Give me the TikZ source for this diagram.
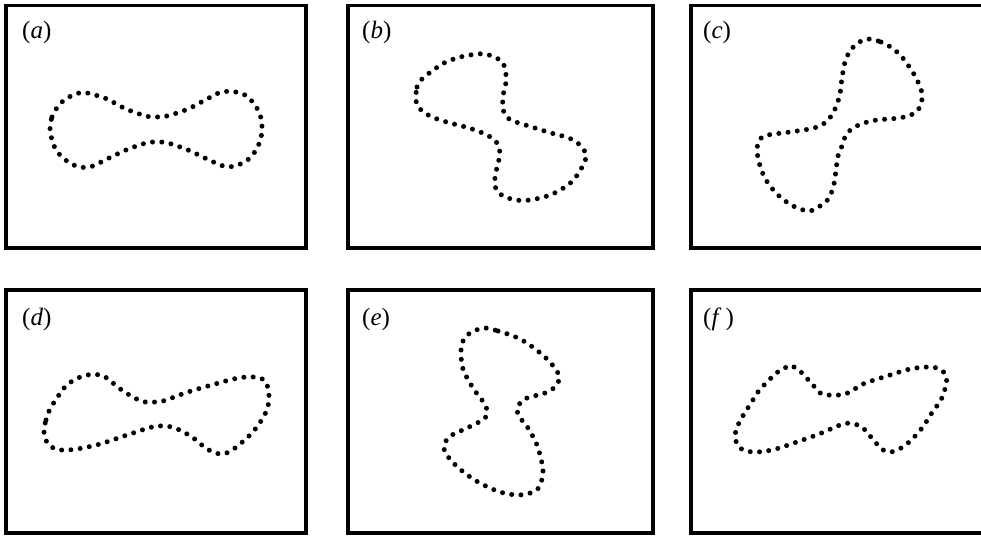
\documentclass[tikz,border=0pt]{standalone}
\usepackage{fontspec}
\setmainfont{Liberation Serif}
\begin{document}
\begin{tikzpicture}[x=1pt,y=-1pt,
  panel/.style={draw=black,line width=3.6pt},
  dotcurve/.style={draw=black,line width=5pt,line cap=round,dash pattern=on 0pt off 9.3pt,smooth cycle,tension=0.55},
  lab/.style={anchor=base west,inner sep=0pt,font=\fontsize{25}{29}\selectfont}]
\useasboundingbox (0,0) rectangle (981,535);
\clip (0,0) rectangle (981,535);
% panels
\draw[panel] (6,5.5) rectangle (306,248);
\draw[panel] (348,5.5) rectangle (653,248);
\draw[panel] (691,5.5) rectangle (1000,248);
\draw[panel] (6,290) rectangle (306,533);
\draw[panel] (348,290) rectangle (653,533);
\draw[panel] (691,290) rectangle (1000,533);
% labels
\node[lab] (la) at (22,39) {(\textit{a})};
\node[lab] (lb) at (362,39) {(\textit{b})};
\node[lab] (lc) at (703,39) {(\textit{c})};
\node[lab] (ld) at (22,325) {(\textit{d})};
\node[lab] (le) at (362,325) {(\textit{e})};
\node[lab] (lf) at (703,325) {(\textit{f}\,)};
% (a)
\draw[dotcurve] plot coordinates {(50,128) (52,117) (59,105) (69,97) (82,92.5) (95,95) (107,99) (126,109) (146,116) (157,117) (167,116) (188,109) (207,99) (220,92.5) (232,91.5) (245,95) (255,105) (261,118) (262,128) (261,138) (257,148) (250,158) (238,165) (225,166.5) (207,159) (188,150) (168,143) (157,142) (146,143) (126,150) (107,159) (90,167) (76,166) (63,158) (55,148) (51,136)};
% (b)
\draw[dotcurve] plot coordinates {(416,94) (417,87) (421,80) (432,71) (444,63) (457,58) (470,55) (485,54) (500,60) (505,68) (506,82) (503,96) (503,109) (506,116) (513,121) (532,127) (551,133) (569,138) (580,145) (586,154) (585,161) (578,174) (568,185) (550,195) (530,200) (516,200) (503,196) (496,189) (495,178) (498,163) (500,154) (497,143) (487,135) (469,128) (450,123) (432,117) (420,109) (416,101)};
% (c)
\draw[dotcurve] plot coordinates {(868,39) (881,42) (892,48) (902,57) (912,71) (918,82) (922,93) (922,99) (920,107) (913,114) (899,118) (877,120) (864,123) (853,128) (846,135) (842,146) (838,156) (836,170) (834,184) (829,198) (820,206) (810,211) (800,209) (788,203) (776,193) (766,180) (760,166) (757,150) (760,139) (768,135) (790,132) (814,128) (826,122) (833,113) (837,104) (840,94) (842,78) (845,62) (850,51) (858,43)};
% (d)
\draw[dotcurve] plot coordinates {(44,430) (46,420) (50,409) (57,398) (64,388) (74,380) (87,375) (101,375) (108,379) (123,391) (141,401) (152,402) (163,401) (188,392) (215,384) (238,378) (254,377) (264,380) (268,388) (269,400) (266,412) (259,424) (251,434) (240,444) (229,452) (220,454) (207,449) (192,437) (175,428) (163,426) (152,427) (127,435) (100,444) (77,449) (61,450) (50,446) (45,438)};
% (e)
\draw[dotcurve] plot coordinates {(484,328) (498,331) (518,338) (534,348) (549,361) (558,373) (559,380) (555,387) (545,393) (527,398) (520,403) (517,411) (521,419) (528,428) (537,445) (542,463) (543,472) (540,486) (533,492) (519,495) (500,492) (478,482) (461,470) (449,458) (444,448) (449,437) (467,428) (484,419) (487,411) (484,403) (473,388) (463,369) (461,351) (463,341) (470,333)};
% (f)
\draw[dotcurve] plot coordinates {(787,367) (794,367) (800,371) (813,385) (822,394) (839,395) (850,392) (863,384) (887,376) (910,369) (928,367) (940,369) (946,376) (946,385) (941,400) (933,411) (922,428) (908,443) (895,451) (885,451) (876,443) (863,428) (854,424) (843,424) (819,434) (794,443) (772,450) (753,452) (740,448) (735,437) (738,425) (744,414) (751,403) (758,392) (768,381) (779,371)};
\end{tikzpicture}
\end{document}
